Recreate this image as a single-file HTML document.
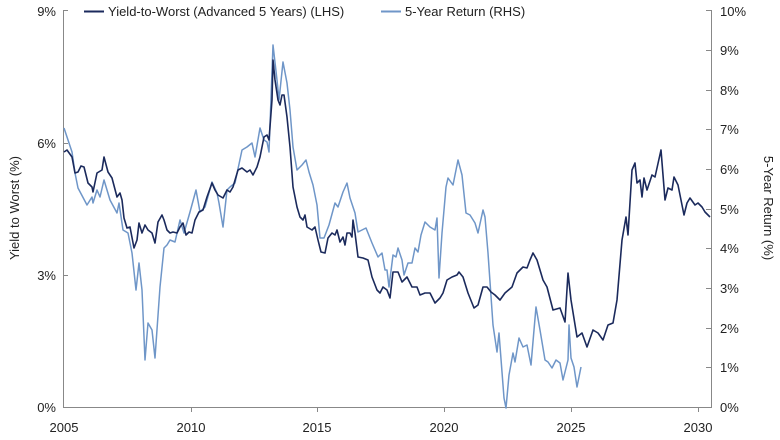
<!DOCTYPE html>
<html><head><meta charset="utf-8"><style>
body{margin:0;background:#fff;}
svg{display:block;font-family:"Liberation Sans",sans-serif;}
</style></head><body>
<svg width="780" height="440" viewBox="0 0 780 440">
<g stroke="#888" stroke-width="1" fill="none">
<line x1="63.5" y1="10" x2="63.5" y2="408"/>
<line x1="711.5" y1="10" x2="711.5" y2="408"/>
<line x1="63" y1="407.5" x2="712" y2="407.5"/>
<line x1="63" y1="10.5" x2="68" y2="10.5"/><line x1="63" y1="143.5" x2="68" y2="143.5"/><line x1="63" y1="275.5" x2="68" y2="275.5"/>
<line x1="706" y1="10.5" x2="711" y2="10.5"/><line x1="706" y1="50.5" x2="711" y2="50.5"/><line x1="706" y1="90.5" x2="711" y2="90.5"/><line x1="706" y1="129.5" x2="711" y2="129.5"/><line x1="706" y1="169.5" x2="711" y2="169.5"/><line x1="706" y1="209.5" x2="711" y2="209.5"/><line x1="706" y1="248.5" x2="711" y2="248.5"/><line x1="706" y1="288.5" x2="711" y2="288.5"/><line x1="706" y1="328.5" x2="711" y2="328.5"/><line x1="706" y1="367.5" x2="711" y2="367.5"/>
<line x1="191.5" y1="407" x2="191.5" y2="412"/><line x1="317.5" y1="407" x2="317.5" y2="412"/><line x1="444.5" y1="407" x2="444.5" y2="412"/><line x1="571.5" y1="407" x2="571.5" y2="412"/><line x1="698.5" y1="407" x2="698.5" y2="412"/>
</g>
<g font-size="13" fill="#222">
<text x="56" y="16" text-anchor="end">9%</text>
<text x="56" y="148" text-anchor="end">6%</text>
<text x="56" y="280" text-anchor="end">3%</text>
<text x="56" y="412" text-anchor="end">0%</text>
<text x="720" y="16">10%</text><text x="720" y="55">9%</text><text x="720" y="95">8%</text><text x="720" y="134">7%</text><text x="720" y="174">6%</text><text x="720" y="214">5%</text><text x="720" y="253">4%</text><text x="720" y="293">3%</text><text x="720" y="333">2%</text><text x="720" y="372">1%</text><text x="720" y="412">0%</text>
<text x="64" y="432" text-anchor="middle">2005</text><text x="191" y="432" text-anchor="middle">2010</text><text x="317" y="432" text-anchor="middle">2015</text><text x="444" y="432" text-anchor="middle">2020</text><text x="571" y="432" text-anchor="middle">2025</text><text x="698" y="432" text-anchor="middle">2030</text>
<text transform="translate(19,208) rotate(-90)" text-anchor="middle">Yield to Worst (%)</text>
<text transform="translate(764,208) rotate(90)" text-anchor="middle">5-Year Return (%)</text>
<text x="108" y="16">Yield-to-Worst (Advanced 5 Years) (LHS)</text>
<text x="405" y="16">5-Year Return (RHS)</text>
</g>
<line x1="84" y1="11.5" x2="104" y2="11.5" stroke="#1b2a5c" stroke-width="2"/>
<line x1="381" y1="11.5" x2="401" y2="11.5" stroke="#6f96c8" stroke-width="2"/>
<polyline fill="none" stroke="#6f96c8" stroke-width="1.5" stroke-linejoin="round" points="64,128 72,152 75,173 78,188 87,205 92,197 93,203 97,190 100,197 104,180 110,200 117,213 119,203 123,230 128,233 132,253 136,290 139,263 142,290 145,360 148,323 152,330 155,358 160,287 164,248 167,245 170,240 175,242 180,220 184,233 190,212 196,190 200,212 205,207 212,182 217,193 219,203 223,227 227,190 230,187 235,183 242,150 247,147 252,143 255,157 260,128 264,140 267,142 269,152 273,45 277,80 279,100 283,62 287,83 290,110 293,147 297,170 302,165 306,160 309,172 313,185 317,205 320,238 324,238 329,225 335,203 338,207 343,192 347,183 350,198 355,213 358,232 366,228 372,243 378,257 382,253 385,270 387,270 389,287 393,255 396,257 398,248 402,260 404,275 408,263 412,263 415,248 418,252 421,235 425,222 430,227 435,230 437,218 439,278 442,233 446,187 448,178 453,185 458,160 462,175 466,213 470,215 475,223 478,233 483,210 485,217 488,253 493,325 497,352 499,333 504,398 506,408 509,375 513,353 515,362 519,338 523,347 527,345 531,365 534,330 536,307 540,330 545,360 548,362 552,368 556,360 560,363 563,380 568,360 569,325 571,358 574,367 577,387 581,367"/>
<polyline fill="none" stroke="#1b2a5c" stroke-width="1.6" stroke-linejoin="round" points="64,152 67,150 72,157 75,173 78,172 81,166 84,167 88,183 92,187 93,192 97,173 102,170 104,157 108,172 112,178 117,197 120,193 122,200 124,218 127,228 130,227 134,248 137,240 139,223 142,233 145,225 148,230 152,233 155,243 158,222 162,215 164,220 167,230 170,233 173,232 177,233 180,227 183,223 186,235 189,232 192,233 195,220 199,212 203,210 207,197 212,183 215,190 218,195 223,198 227,190 230,192 233,187 238,170 242,168 247,172 250,170 253,175 257,167 260,157 264,137 267,135 269,140 272,100 273,60 275,80 278,100 280,105 282,95 284,95 287,117 290,147 293,187 297,207 300,217 303,220 305,215 307,227 312,230 315,227 318,240 321,252 325,253 328,238 332,233 335,235 337,230 340,242 343,237 345,245 347,233 350,233 352,237 353,220 355,233 358,257 363,258 368,260 372,277 377,290 380,293 383,287 387,290 390,298 393,272 398,272 402,282 407,277 412,287 417,287 420,295 425,293 430,293 435,303 440,298 443,293 447,280 452,277 457,275 459,272 463,277 468,293 474,308 478,305 483,287 487,287 491,292 495,295 500,300 505,293 512,287 517,273 523,267 527,268 530,260 533,253 537,260 540,270 543,280 547,287 553,310 560,308 565,322 568,273 571,300 577,337 582,333 587,347 593,330 598,333 603,340 608,325 613,323 617,300 622,240 626,217 628,235 632,170 635,163 637,183 640,180 642,197 644,178 647,190 652,175 655,177 661,150 665,200 668,188 672,190 674,177 678,185 681,200 684,215 687,203 690,198 695,205 698,203 702,207 705,212 710,217"/>
</svg>
</body></html>
